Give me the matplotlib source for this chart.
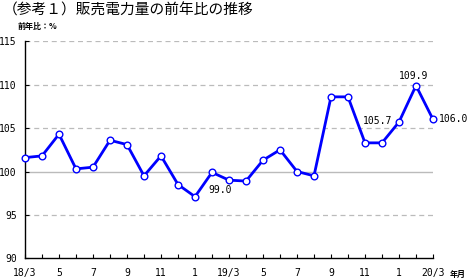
import matplotlib
matplotlib.use("Agg")
import matplotlib.pyplot as plt

plt.rcParams['font.family'] = ['Noto Sans CJK JP', 'DejaVu Sans']

months = ["18/3", "4", "5", "6", "7", "8", "9", "10", "11", "12", "1", "2",
          "19/3", "4", "5", "6", "7", "8", "9", "10", "11", "12", "1", "2", "20/3"]
values = [101.6, 101.8, 104.3, 100.3, 100.5, 103.6, 103.1, 99.5, 101.8, 98.5,
          97.1, 99.9, 99.0, 98.9, 101.3, 102.5, 100.0, 99.5, 108.6, 108.6,
          103.3, 103.3, 105.7, 109.9, 106.0]
yticks = [90, 95, 100, 105, 110, 115]
annotated = {12: "99.0", 22: "105.7", 23: "109.9", 24: "106.0"}

mono = ['DejaVu Sans Mono']
px = 0.72  # points per pixel at 100 dpi

fig = plt.figure(figsize=(4.67, 2.78), dpi=100)
ax = fig.add_axes([25/467, 1 - 258.3/278, (433-25)/467, (258.3-41.3)/278])

x = list(range(len(values)))
for yv in yticks[1:]:
    if yv == 100:
        ax.axhline(yv, color="#bbbbbb", lw=1.0, zorder=1)
    else:
        ax.axhline(yv, color="#bbbbbb", lw=0.9, ls=(0, (4, 3)), zorder=1)

ax.plot(x, values, color="#0000ff", lw=2.0, marker="o", markersize=4.8,
        markerfacecolor="white", markeredgecolor="#0000ff", markeredgewidth=1.0,
        zorder=3, clip_on=False)

ax.set_xlim(0, len(values) - 1)
ax.set_ylim(90, 115)
ax.set_yticks(yticks)
ax.set_yticklabels([str(v) for v in yticks], fontsize=7, family=mono)
ax.set_xticks(x)
ax.set_xticklabels([m if i % 2 == 0 else "" for i, m in enumerate(months)],
                   fontsize=7, family=mono)
ax.tick_params(axis="x", direction="in", length=3, width=0.8, pad=7)
ax.tick_params(axis="y", direction="in", length=3, width=0.8, pad=6)

ax.spines["top"].set_visible(False)
ax.spines["right"].set_visible(False)
ax.spines["left"].set_linewidth(1.0)
ax.spines["bottom"].set_linewidth(1.0)

offsets = {12: (-9, -10, "center"), 22: (-7, 1.5, "right"), 23: (-2, 10, "center"), 24: (6, 0, "left")}
for i, txt in annotated.items():
    dx, dy, ha = offsets[i]
    ax.annotate(txt, (x[i], values[i]), xytext=(dx * px, dy * px), textcoords="offset points",
                fontsize=7, ha=ha, va="center", family=mono)

fig.text(3/467, 1 - 15/278, "（参考１）販売電力量の前年比の推移", fontsize=10.6, ha="left", va="baseline")
fig.text(18/467, 1 - 28.5/278, "前年比：%", fontsize=5.8, ha="left", va="baseline", fontweight="bold")
fig.text(450/467, 1 - 277/278, "年月", fontsize=5.8, ha="left", va="baseline", fontweight="bold")

fig.savefig("out.png", dpi=100)
